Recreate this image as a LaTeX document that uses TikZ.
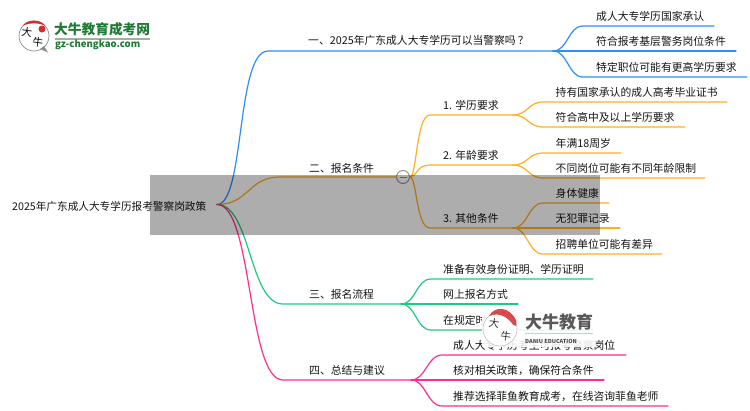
\documentclass[tikz,border=0pt]{standalone}
\usepackage{fontspec}
\setmainfont{Noto Sans CJK SC}
\begin{document}
\begin{tikzpicture}[x=1pt,y=-1pt,
  lbl/.style={anchor=west,inner sep=0pt,font=\fontsize{10.8}{13}\selectfont,text=black!92},
  wire/.style={line width=1.2pt,line cap=round},
  cblue/.style={wire,draw=cBlue},corange/.style={wire,draw=cOrange},
  cgreen/.style={wire,draw=cGreen},cpink/.style={wire,draw=cPink}]
\definecolor{cBlue}{HTML}{2A90F5}
\definecolor{cOrange}{HTML}{FFB020}
\definecolor{cGreen}{HTML}{1FCB7E}
\definecolor{cPink}{HTML}{FF2E8E}
\definecolor{logoG}{HTML}{1E7A34}
\definecolor{logoR}{HTML}{D92B2B}
\useasboundingbox (0,0) rectangle (750,410);
\fill[white] (0,0) rectangle (750,410);
% hubs and bends
\coordinate (r) at (217,204.5);
\coordinate (b1s) at (268,51); \coordinate (b1) at (553,51);
\coordinate (b2s) at (280,177); \coordinate (b2) at (397,177);
\coordinate (b3s) at (283,304); \coordinate (b3) at (401,304);
\coordinate (b4s) at (283,380); \coordinate (b4) at (411,380);
\node[circle,draw=black!45,fill=white,line width=.9pt,minimum size=13pt,inner sep=0pt] (col) at (403,177) {};
\draw[black!45,line width=.8pt] (399.5,177) -- (406.5,177);
% root connectors
\draw[cblue] (r) .. controls +(28,0) and +(-32,0) .. (b1s) -- (b1);
\draw[corange] (r) .. controls +(32,0) and +(-32,0) .. (b2s) -- (b2) -- (col);
\draw[cgreen] (r) .. controls +(34,0) and +(-34,0) .. (b3s) -- (b3);
\draw[cpink] (r) .. controls +(36,0) and +(-36,0) .. (b4s) -- (b4);
% level 1 text
\node[lbl,font=\fontsize{10.65}{13}\selectfont] (root) at (12,206) {2025年广东成人大专学历报考警察岗政策};
\node[lbl] (t1) at (308,40.5) {一、2025年广东成人大专学历可以当警察吗\hspace{2pt}？};
\node[lbl] (t2) at (309,168.5) {二、报名条件};
\node[lbl] (t3) at (309,294.5) {三、报名流程};
\node[lbl] (t4) at (309,370.5) {四、总结与建议};
% blue leaves
\foreach \n/\y/\e/\s in {a/26/714/成人大专学历国家承认,b/51/736/符合报考基层警务岗位条件,c/77/747/特定职位可能有更高学历要求}{
  \coordinate (bl\n) at (583,\y); \coordinate (ble\n) at (\e,\y);
  \draw[cblue] (b1) .. controls +(15,0) and +(-15,0) .. (bl\n) -- (ble\n);
  \node[lbl] (blt\n) at (596,\y-10) {\s};
}
% orange level 2
\foreach \n/\y/\s in {a/115/1. 学历要求,b/165/2. 年龄要求,c/228/3. 其他条件}{
  \coordinate (os\n) at (430,\y); \coordinate (o\n) at (513,\y);
  \draw[corange] (col) .. controls +(14,0) and +(-14,0) .. (os\n) -- (o\n);
  \node[lbl] (ot\n) at (443,\y-9.5) {\s};
}
\foreach \p/\n/\y/\e/\s in {oa/a/102/727/持有国家承认的成人高考毕业证书,oa/b/127/685/符合高中及以上学历要求,ob/c/153/621/年满18周岁,ob/d/178/705/不同岗位可能有不同年龄限制,oc/e/203/609/身体健康,oc/f/228/620/无犯罪记录,oc/g/254/662/招聘单位可能有差异}{
  \coordinate (ol\n) at (543,\y); \coordinate (ole\n) at (\e,\y);
  \draw[corange] (\p) .. controls +(15,0) and +(-15,0) .. (ol\n) -- (ole\n);
  \node[lbl] (olt\n) at (555.5,\y-9.5) {\s};
}
% green leaves
\foreach \n/\y/\e/\s in {a/279/593/准备有效身份证明、学历证明,b/304/518/网上报名方式,c/330/593/在规定时}{
  \coordinate (gl\n) at (431,\y); \coordinate (gle\n) at (\e,\y);
  \draw[cgreen] (b3) .. controls +(15,0) and +(-15,0) .. (gl\n) -- (gle\n);
  \node[lbl] (glt\n) at (443,\y-9.5) {\s};
}
% pink leaves
\foreach \n/\y/\e/\s in {a/355/626/成人大专学历考生可报考警察岗位,b/380/604/核对相关政策，确保符合条件,c/406/668/推荐选择菲鱼教育成考，在线咨询菲鱼老师}{
  \coordinate (pl\n) at (442,\y); \coordinate (ple\n) at (\e,\y);
  \draw[cpink] (b4) .. controls +(15,0) and +(-15,0) .. (pl\n) -- (ple\n);
  \node[lbl] (plt\n) at (453,\y-9.5) {\s};
}
% grey band
\fill[black,opacity=.32] (150,175) rectangle (600,235);
% top-left logo
\fill[white] (34,36) circle (15);
\draw[black!45,line width=.7pt] (34,36) circle (15);
\fill[black!45] (40,49) -- (48,52.5) -- (44,46) -- cycle;
\fill[logoR] (23,25.5) .. controls (27,19) and (41,19) .. (45,25.5) .. controls (38,22.5) and (30,22.5) .. (23,25.5) -- cycle;
\fill[logoR] (42,29) circle (3.5);
\node[inner sep=0pt,font=\fontsize{10.5}{11}\selectfont,rotate=-8] (lg1) at (27,32) {大};
\node[inner sep=0pt,font=\fontsize{10.5}{11}\selectfont,rotate=-8] (lg2) at (38,42.5) {牛};
\node[anchor=west,inner sep=0pt,text=logoG,font=\fontsize{13.7}{14}\selectfont\bfseries] (lg3) at (54,29.5) {大牛教育成考网};
\fill[logoG!50!black!40] (54.5,38) rectangle (150,39.5);
\node[anchor=west,inner sep=0pt,text=logoG,font=\fontsize{9.6}{10}\selectfont\bfseries] (lg4) at (55,45) {gz-chengkao.com};
% watermark
\fill[white,opacity=.88] (482,307) rectangle (596,347);
\fill[white,opacity=.8] (500,329) circle (18);
\draw[black!25,line width=.6pt] (500,329) circle (17);
\fill[logoR,opacity=.85] (489,316) .. controls (495,305) and (510,307) .. (516,320) .. controls (518,328) and (514,327) .. (511,322) .. controls (504,314) and (495,313) .. (489,316) -- cycle;
\node[inner sep=0pt,font=\fontsize{10.5}{11}\selectfont,text=black!80,rotate=-8] (wm1) at (494,323) {大};
\node[inner sep=0pt,font=\fontsize{10.5}{11}\selectfont,text=black!80,rotate=-8] (wm2) at (506,336) {牛};
\node[anchor=west,inner sep=0pt,text=black!65,font=\fontsize{17}{18}\selectfont\bfseries] (wm3) at (525,322) {大牛教育};
\fill[black!20] (525,333) rectangle (593,334);
\node[anchor=west,inner sep=0pt,text=black!70,font=\fontsize{5.5}{6}\selectfont\bfseries] (wm4) at (525,341.5) {DANIU EDUCATION};
\end{tikzpicture}
\end{document}
